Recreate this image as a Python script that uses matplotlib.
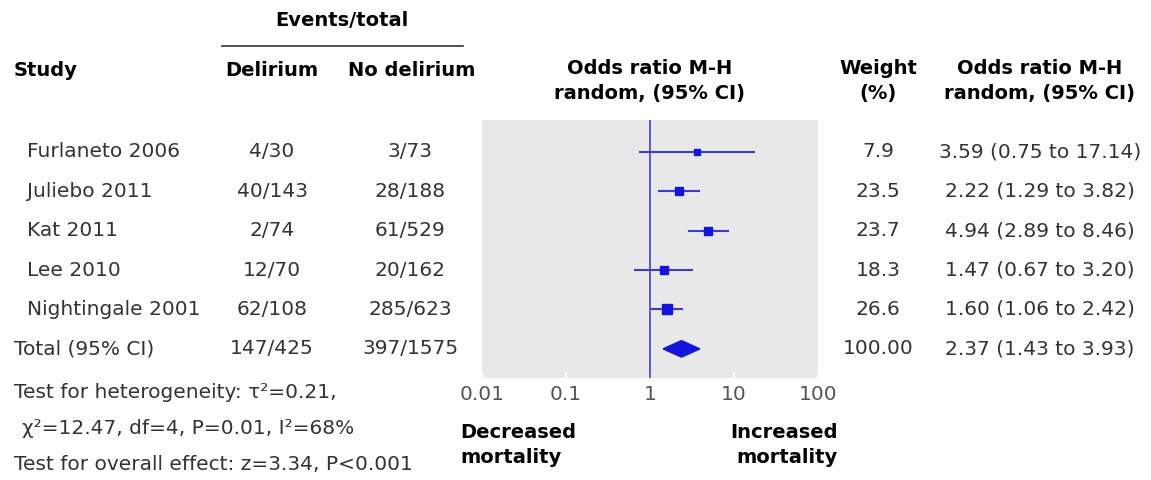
import numpy as np
import matplotlib
matplotlib.use("Agg")
import matplotlib.pyplot as plt
from matplotlib.transforms import blended_transform_factory
from matplotlib.patches import Polygon

# данные исследований
studies = ["Furlaneto 2006", "Juliebo 2011", "Kat 2011", "Lee 2010", "Nightingale 2001"]
delirium = ["4/30", "40/143", "2/74", "12/70", "62/108"]
no_delirium = ["3/73", "28/188", "61/529", "20/162", "285/623"]
odds = [3.59, 2.22, 4.94, 1.47, 1.60]
ci_low = [0.75, 1.29, 2.89, 0.67, 1.06]
ci_high = [17.14, 3.82, 8.46, 3.20, 2.42]
weights = ["7.9", "23.5", "23.7", "18.3", "26.6"]
weight_vals = [7.9, 23.5, 23.7, 18.3, 26.6]

# итог
total_label = "Total (95% CI)"
total_delirium = "147/425"
total_no_delirium = "397/1575"
total_or = 2.37
total_low = 1.43
total_high = 3.93
total_weight = "100.00"

tick_vals = [0.01, 0.1, 1, 10, 100]
tick_labels = ["0.01", "0.1", "1", "10", "100"]

W, H = 1151, 480
plt.rcParams['font.family'] = ['DejaVu Sans']

fig = plt.figure(figsize=(W / 100, H / 100), dpi=100)
fig.patch.set_facecolor("white")

def fx(px):
    return px / W

def fy(py):
    return 1 - py / H

# область графика
ax = fig.add_axes([fx(482), fy(378), fx(818) - fx(482), (378 - 120) / H])
ax.set_facecolor("#e8e8e8")
for s in ax.spines.values():
    s.set_visible(False)
ax.set_xscale("log")
ax.set_xlim(0.01, 100)
ax.set_ylim(5.74, -0.81)
ax.set_yticks([])
ax.set_xticks(tick_vals)
ax.set_xticklabels(tick_labels)
ax.minorticks_off()
ax.tick_params(axis="x", direction="in", length=4, color="white", width=1.5,
               labelsize=14.5, labelcolor="#555555", pad=5)

blue = "#1414dc"
ax.axvline(1, color="#5050c8", lw=1.3)

for i in range(len(studies)):
    ax.plot([ci_low[i], ci_high[i]], [i, i], color="#3c3cc8", lw=1.5)
    ax.plot(odds[i], i, marker="s", color=blue, mec=blue,
            ms=1.3 * np.sqrt(weight_vals[i]))

yt = len(studies)
dia = Polygon([[total_low, yt], [total_or, yt - 0.21], [total_high, yt], [total_or, yt + 0.21]],
              closed=True, color=blue)
ax.add_patch(dia)

# текст таблицы
tr = blended_transform_factory(fig.transFigure, ax.transData)
body = dict(fontsize=14.5, color="#333333", va="center")
for i in range(len(studies)):
    fig.text(fx(27), i, studies[i], transform=tr, ha="left", **body)
    fig.text(fx(272), i, delirium[i], transform=tr, ha="center", **body)
    fig.text(fx(410), i, no_delirium[i], transform=tr, ha="center", **body)
    fig.text(fx(878), i, weights[i], transform=tr, ha="center", **body)
    fig.text(fx(1040), i, "%.2f (%.2f to %.2f)" % (odds[i], ci_low[i], ci_high[i]),
             transform=tr, ha="center", **body)

fig.text(fx(14), yt, total_label, transform=tr, ha="left", **body)
fig.text(fx(272), yt, total_delirium, transform=tr, ha="center", **body)
fig.text(fx(410), yt, total_no_delirium, transform=tr, ha="center", **body)
fig.text(fx(878), yt, total_weight, transform=tr, ha="center", **body)
fig.text(fx(1040), yt, "%.2f (%.2f to %.2f)" % (total_or, total_low, total_high),
         transform=tr, ha="center", **body)

# заголовки
head = dict(fontsize=14, color="black", fontweight="bold", va="center")
fig.text(fx(342), fy(20), "Events/total", ha="center", **head)
fig.add_artist(plt.Line2D([fx(222), fx(463)], [fy(46), fy(46)], color="#333333", lw=1.2))
fig.text(fx(14), fy(70), "Study", ha="left", **head)
fig.text(fx(272), fy(70), "Delirium", ha="center", **head)
fig.text(fx(412), fy(70), "No delirium", ha="center", **head)
fig.text(fx(650), fy(81), "Odds ratio M-H\nrandom, (95% CI)", ha="center", linespacing=1.35, **head)
fig.text(fx(878), fy(81), "Weight\n(%)", ha="center", linespacing=1.35, **head)
fig.text(fx(1040), fy(81), "Odds ratio M-H\nrandom, (95% CI)", ha="center", linespacing=1.35, **head)

# подписи внизу
fig.text(fx(460), fy(445), "Decreased\nmortality", ha="left", linespacing=1.35, **head)
fig.text(fx(838), fy(445), "Increased\nmortality", ha="right", linespacing=1.35, **head)

foot = dict(fontsize=14.5, color="#333333", va="center", ha="left")
fig.text(fx(14), fy(392), "Test for heterogeneity: τ²=0.21,", **foot)
fig.text(fx(22), fy(428), "χ²=12.47, df=4, P=0.01, I²=68%", **foot)
fig.text(fx(14), fy(465), "Test for overall effect: z=3.34, P<0.001", **foot)

fig.savefig("out.png", dpi=100)
